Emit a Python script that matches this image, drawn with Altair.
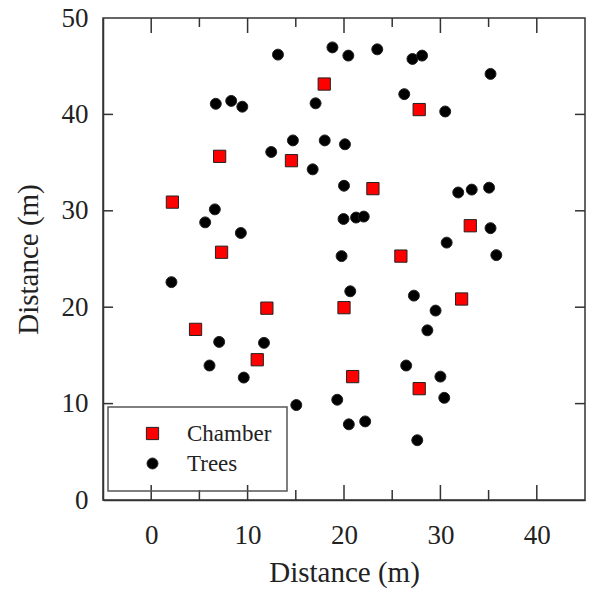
import altair as alt
import pandas as pd

# Chamber locations (m)
chamber_x = [2.2, 7.1, 7.3, 14.55, 17.95, 27.8, 23.0, 33.1, 25.9, 32.2, 12.0, 4.6, 11.0, 20.0, 20.9, 27.8]
chamber_y = [30.9, 35.65, 25.7, 35.2, 43.15, 40.5, 32.3, 28.45, 25.3, 20.85, 19.9, 17.7, 14.55, 19.95, 12.8, 11.55]

# Tree locations (m)
trees_x = [13.15, 6.7, 8.3, 9.45, 14.7, 12.45, 6.6, 5.6, 9.3, 2.1,
           18.8, 20.45, 23.45, 27.1, 28.1, 35.2, 26.25, 17.05, 30.5, 18.0,
           20.1, 16.75, 20.0, 31.85, 33.25, 35.05, 19.95, 21.25, 22.05, 35.2,
           30.65, 19.75, 35.8, 20.65, 27.25,
           7.05, 11.7, 6.05, 9.6, 15.05,
           29.5, 28.65, 26.45, 30.0, 30.4, 19.3, 22.2, 20.5, 27.6]
trees_y = [46.2, 41.1, 41.4, 40.8, 37.3, 36.1, 30.15, 28.8, 27.7, 22.6,
           46.95, 46.1, 46.75, 45.75, 46.1, 44.2, 42.1, 41.15, 40.3, 37.3,
           36.9, 34.3, 32.6, 31.9, 32.2, 32.4, 29.15, 29.3, 29.4, 28.2,
           26.7, 25.3, 25.4, 21.65, 21.2,
           16.4, 16.3, 13.95, 12.7, 9.85,
           19.65, 17.6, 13.95, 12.8, 10.6, 10.4, 8.15, 7.85, 6.2]

series = ["Chamber", "Trees"]
x_ticks_major = [0, 10, 20, 30, 40]
x_ticks_minor = [5, 15, 25, 35]
y_ticks = [10, 20, 30, 40]
y_labels = [0, 10, 20, 30, 40, 50]

W, H = 482, 482
XMIN, XMAX, YMIN, YMAX = -5, 45, 0, 50
FONT = "Liberation Serif"

df = pd.DataFrame({
    "x": chamber_x + trees_x,
    "y": chamber_y + trees_y,
    "type": [series[0]] * len(chamber_x) + [series[1]] * len(trees_x),
})

xs = alt.Scale(domain=[XMIN, XMAX], nice=False, zero=False)
ys = alt.Scale(domain=[YMIN, YMAX], nice=False, zero=False)

points = alt.Chart(df).mark_point(filled=True, opacity=1, stroke="#222", strokeWidth=1).encode(
    x=alt.X("x:Q", scale=xs, title="Distance (m)",
            axis=alt.Axis(values=x_ticks_major, labelPadding=22, titlePadding=10)),
    y=alt.Y("y:Q", scale=ys, title="Distance (m)",
            axis=alt.Axis(values=y_labels, labelPadding=15, titlePadding=18)),
    color=alt.Color("type:N", scale=alt.Scale(domain=series, range=["#ff0000", "#000000"]),
                    legend=alt.Legend(title=None)),
    shape=alt.Shape("type:N", scale=alt.Scale(domain=series, range=["square", "circle"]),
                    legend=alt.Legend(title=None)),
    size=alt.Size("type:N", scale=alt.Scale(domain=series, range=[150, 120]), legend=None),
)

tick_color = "#333"
# tick lengths in pixels, converted to data units of the respective scale
ux = (XMAX - XMIN) / W
uy = (YMAX - YMIN) / H


def xrule(vals, at, length_px):
    d = pd.DataFrame({"t": vals, "y0": [at] * len(vals),
                      "y1": [at + length_px * uy] * len(vals)})
    return alt.Chart(d).mark_rule(color=tick_color, strokeWidth=1.5).encode(
        x=alt.X("t:Q", scale=xs), y=alt.Y("y0:Q", scale=ys), y2="y1:Q")


def yrule(vals, at, length_px):
    d = pd.DataFrame({"t": vals, "x0": [at] * len(vals),
                      "x1": [at + length_px * ux] * len(vals)})
    return alt.Chart(d).mark_rule(color=tick_color, strokeWidth=1.5).encode(
        y=alt.Y("t:Q", scale=ys), x=alt.X("x0:Q", scale=xs), x2="x1:Q")


ticks = [
    xrule(x_ticks_major, YMAX, -15), xrule(x_ticks_minor, YMAX, -9),
    xrule(x_ticks_major, YMIN, 15), xrule(x_ticks_minor, YMIN, 10),
    yrule(y_ticks, XMIN, 10), yrule(y_ticks, XMAX, -10),
]

chart = alt.layer(*ticks, points).properties(
    width=W, height=H,
    autosize=alt.AutoSizeParams(type="none"),
    padding={"left": 103, "top": 18, "right": 8, "bottom": 92},
).configure_view(
    stroke="#333", strokeWidth=1.5
).configure_axis(
    grid=False, ticks=False, tickSize=0,
    domainColor="#333", domainWidth=1.5,
    labelFont=FONT, labelFontSize=27, labelColor="#222",
    titleFont=FONT, titleFontSize=29, titleFontWeight="normal", titleColor="#222",
).configure_legend(
    orient="none", legendX=5, legendY=389,
    padding=15, symbolOffset=18, labelOffset=23, rowPadding=6,
    labelFont=FONT, labelFontSize=23, labelColor="#222",
    strokeColor="#555", strokeWidth=1.5,
    symbolSize=150, symbolStrokeColor="#222", symbolStrokeWidth=1,
)

chart.save("out.html", embed_options={"renderer": "svg", "actions": False})
